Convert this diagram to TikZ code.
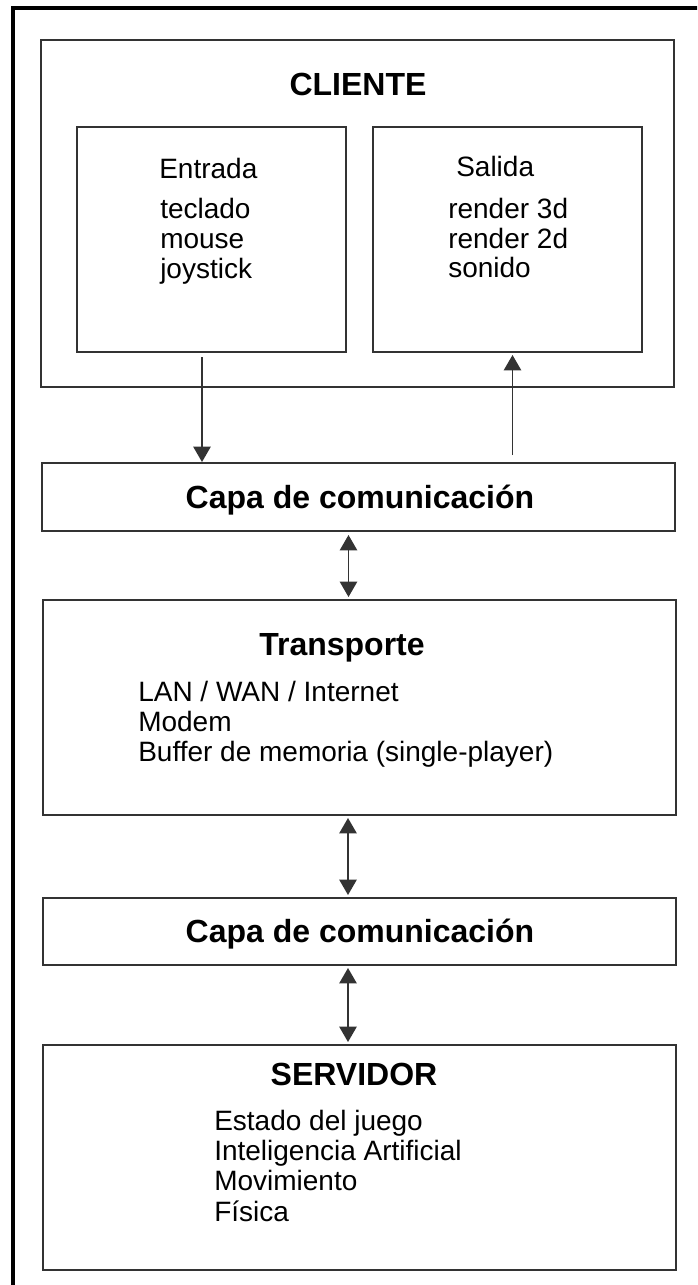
\documentclass[tikz,border=0pt]{standalone}
\usepackage{fontspec}
\setmainfont{Liberation Sans}
\usetikzlibrary{arrows.meta,fit,calc}
\definecolor{edge}{HTML}{333333}

\begin{document}
\begin{tikzpicture}[x=0.75pt,y=-0.75pt,
  box/.style={draw=edge,line width=1.3pt,inner sep=0pt,outer sep=0pt},
  head/.style={font=\fontsize{24}{28}\selectfont\bfseries,inner sep=0pt,anchor=base},
  item/.style={font=\fontsize{21}{25}\selectfont,inner sep=0pt,anchor=base west},
  arr/.style={draw=edge,line width=1.1pt,-{Triangle[length=11.5pt,width=13pt]}},
  dbl/.style={draw=edge,line width=1.1pt,{Triangle[length=11.5pt,width=13pt]}-{Triangle[length=11.5pt,width=13pt]}}]
\useasboundingbox (0,0) rectangle (697,1285);
\clip (0,0) rectangle (697,1285);

% outer frame, running past the right and bottom edges
\node (frame) [draw=black,line width=2.3pt,inner sep=0pt,fit={(13,8) (730,1320)}] {};

% boxes
\node (cliente)    [box,fit={(41,40) (674,387)}] {};
\node (entrada)    [box,fit={(77,127) (346,352)}] {};
\node (salida)     [box,fit={(373,127) (642,352)}] {};
\node (capa1)      [box,fit={(42,463) (675,531)}] {};
\node (transporte) [box,fit={(43,600) (676,815)}] {};
\node (capa2)      [box,fit={(43,898) (676,965)}] {};
\node (servidor)   [box,fit={(43,1045) (676,1270)}] {};

% titles
\node (tcliente) [head] at (358,95) {CLIENTE};
\node (tentrada) [item] at (159,178) {Entrada};
\node (tsalida)  [item] at (456,176) {Salida};
\node (tcapa1)   [head] at (360,508) {Capa de comunicación};
\node (ttransp)  [head] at (342,655) {Transporte};
\node (tcapa2)   [head] at (360,942) {Capa de comunicación};
\node (tserv)    [head] at (354,1085) {SERVIDOR};

% client input devices
\node (e1) [item] at (160,218) {teclado};
\node (e2) [item] at (160,248) {mouse};
\node (e3) [item] at (160,278) {joystick};

% client output
\node (s1) [item] at (448,218) {render 3d};
\node (s2) [item] at (448,248) {render 2d};
\node (s3) [item] at (448,277) {sonido};

% transport media
\node (m1) [item] at (138,701) {LAN / WAN / Internet};
\node (m2) [item] at (138,731) {Modem};
\node (m3) [item] at (138,761) {Buffer de memoria (single-player)};

% server tasks
\node (v1) [item] at (214,1130) {Estado del juego};
\node (v2) [item] at (214,1160) {Inteligencia Artificial};
\node (v3) [item] at (214,1190) {Movimiento};
\node (v4) [item] at (214,1221) {Física};

% connectors
\coordinate (a1s) at ($(entrada.south)+(-9.5,5)$);
\draw[arr] (a1s) -- ($(a1s |- capa1.north)+(0,-1)$);
\coordinate (a2s) at ($(capa1.north)+(154,-8)$);
\draw[arr] (a2s) -- ($(a2s |- salida.south)+(0,3)$);
\coordinate (a3s) at ($(capa1.south)+(-10,4)$);
\draw[dbl] (a3s) -- ($(a3s |- transporte.north)+(0,-3)$);
\coordinate (a4s) at ($(transporte.south)+(-11.5,3)$);
\draw[dbl] (a4s) -- ($(a4s |- capa2.north)+(0,-3)$);
\coordinate (a5s) at ($(capa2.south)+(-11.5,3)$);
\draw[dbl] (a5s) -- ($(a5s |- servidor.north)+(0,-3)$);
\end{tikzpicture}
\end{document}
